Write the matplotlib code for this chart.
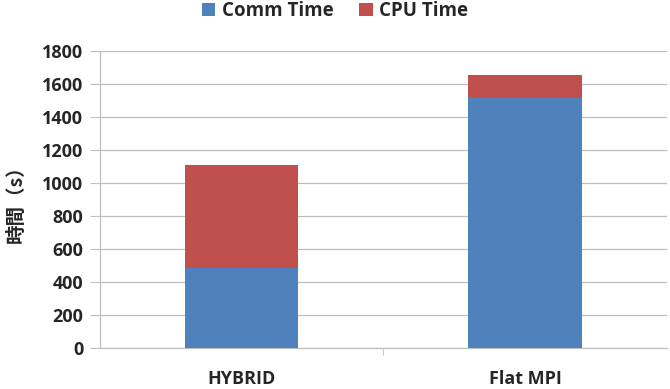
import matplotlib
matplotlib.use("Agg")
import matplotlib.pyplot as plt
import numpy as np

categories = ["HYBRID", "Flat MPI"]
comm_time = [485, 1515]
cpu_time = [625, 140]
yticks = [0, 200, 400, 600, 800, 1000, 1200, 1400, 1600, 1800]

BLUE = "#4F81BD"
RED = "#C0504D"
GRID = "#BFBFBF"
LBL = "#262626"

plt.rcParams["font.family"] = ["Open Sans", "DejaVu Sans"]

fig = plt.figure(figsize=(6.7, 3.89), dpi=100)
ax = fig.add_axes([0.149, 0.105, 0.8465, 0.764])

x = np.arange(len(categories))
ax.bar(x, comm_time, width=0.4, color=BLUE, label="Comm Time", zorder=3)
ax.bar(x, cpu_time, width=0.4, bottom=comm_time, color=RED, label="CPU Time", zorder=3)

ax.set_xlim(-0.5, len(categories) - 0.5)
ax.set_ylim(0, 1800)
ax.set_yticks(yticks)
ax.set_yticklabels([str(v) for v in yticks], fontsize=13, fontweight="bold", color=LBL)
ax.set_xticks(x)
ax.set_xticklabels(categories, fontsize=13, fontweight="bold", color=LBL)
ax.set_xticks([0.5], minor=True)
ax.tick_params(axis="x", which="major", length=0, pad=16)
ax.tick_params(axis="x", which="minor", length=5, color=GRID, direction="out")
ax.tick_params(axis="y", length=7, color=GRID, direction="out", pad=5)

ax.yaxis.grid(True, color=GRID, linewidth=0.9, zorder=0)
for side in ["top", "right"]:
    ax.spines[side].set_visible(False)
for side in ["left", "bottom"]:
    ax.spines[side].set_color(GRID)
    ax.spines[side].set_linewidth(0.9)

ax.set_ylabel("時間（s）", fontsize=14, fontweight="bold", color=LBL,
              family=["Noto Sans CJK JP", "DejaVu Sans"])
ax.yaxis.set_label_coords(-0.13, 0.5)

leg = fig.legend(loc="upper center", bbox_to_anchor=(0.5, 1.04), ncol=2, frameon=False,
                 prop={"size": 13.5, "weight": "bold"}, handlelength=0.7, handleheight=0.7,
                 handletextpad=0.35, columnspacing=1.4)
for t in leg.get_texts():
    t.set_color(LBL)

fig.savefig("out.png", dpi=100, facecolor="white")
